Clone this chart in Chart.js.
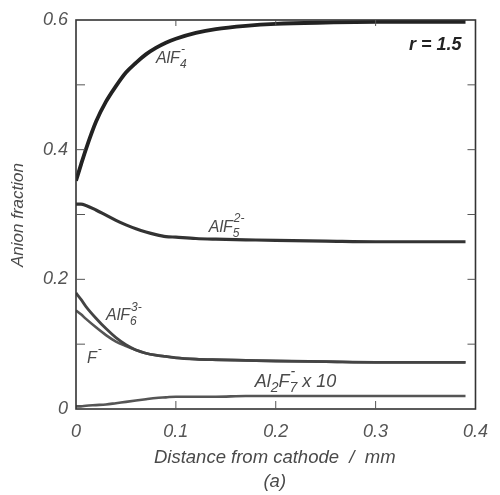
<!DOCTYPE html>
<html>
<head>
<meta charset="utf-8">
<script src="https://cdn.jsdelivr.net/npm/chart.js@4.4.1/dist/chart.umd.min.js"></script>
<style>
  body { margin: 0; background: #fff; }
  #wrap { width: 500px; height: 495px; }
</style>
</head>
<body>
<div id="wrap"><canvas id="chart" width="500" height="495"></canvas></div>
<script>
// distance from cathode (mm)
const distance = [0, 0.005, 0.01, 0.02, 0.03, 0.04, 0.05, 0.06, 0.07, 0.08, 0.09, 0.1, 0.12, 0.14, 0.17, 0.2, 0.25, 0.3, 0.35, 0.39];

const alf4 = [0.352, 0.377, 0.401, 0.443, 0.474, 0.498, 0.519, 0.534, 0.547, 0.557, 0.565, 0.571, 0.580, 0.586, 0.591, 0.594, 0.596, 0.597, 0.597, 0.597];
const alf5 = [0.316, 0.316, 0.314, 0.307, 0.299, 0.291, 0.284, 0.278, 0.273, 0.269, 0.266, 0.265, 0.263, 0.262, 0.261, 0.260, 0.259, 0.258, 0.258, 0.258];
const alf6 = [0.179, 0.169, 0.158, 0.140, 0.124, 0.110, 0.099, 0.091, 0.086, 0.083, 0.081, 0.079, 0.077, 0.076, 0.075, 0.074, 0.073, 0.072, 0.072, 0.072];
const fluoride = [0.152, 0.146, 0.139, 0.126, 0.114, 0.104, 0.097, 0.091, 0.086, 0.083, 0.081, 0.079, 0.077, 0.076, 0.075, 0.074, 0.073, 0.072, 0.072, 0.072];
const al2f7x10 = [0.004, 0.004, 0.005, 0.006, 0.007, 0.009, 0.011, 0.013, 0.015, 0.017, 0.018, 0.019, 0.019, 0.019, 0.020, 0.020, 0.020, 0.020, 0.020, 0.020];

const xTicks = [0, 0.1, 0.2, 0.3, 0.4];
const yTicks = [0, 0.2, 0.4, 0.6];

// curve labels: [x, y] anchor in data units, then text pieces
const curveLabels = [
    { at: [0.080, 0.534], size: 16, parts: [{ t: 'AlF' }, { sub: '4', sup: '-' }] },
    { at: [0.133, 0.273], size: 16, parts: [{ t: 'AlF' }, { sub: '5', sup: '2-' }] },
    { at: [0.030, 0.137], size: 16, parts: [{ t: 'AlF' }, { sub: '6', sup: '3-' }] },
    { at: [0.011, 0.071], size: 16, parts: [{ t: 'F' }, { sub: '', sup: '-' }] },
    { at: [0.179, 0.034], size: 18, parts: [{ t: 'Al' }, { sub: '2', sup: '' }, { t: 'F' }, { sub: '7', sup: '-' }, { t: ' x 10' }] }
];

const toPoints = ys => distance.map((x, i) => ({ x: x, y: ys[i] }));

const FONT = '"Liberation Sans", Arial, sans-serif';
const INK = '#333';
const TEXT = '#4a4a4a';

function series(ys, color, width) {
    return {
        data: toPoints(ys),
        borderColor: color,
        borderWidth: width,
        pointRadius: 0,
        fill: false,
        cubicInterpolationMode: 'monotone'
    };
}

const decorations = {
    id: 'decorations',
    afterDatasetsDraw(chart) {
        const ctx = chart.ctx;
        const a = chart.chartArea;
        const xs = chart.scales.x;
        const ys = chart.scales.y;

        ctx.save();
        // frame
        ctx.strokeStyle = INK;
        ctx.lineWidth = 1.6;
        ctx.strokeRect(a.left, a.top, a.right - a.left, a.bottom - a.top);

        // inward ticks on all four sides
        ctx.lineWidth = 1;
        ctx.strokeStyle = '#555';
        for (let v = 1; v < 4; v++) {
            const px = xs.getPixelForValue(v / 10);
            ctx.beginPath();
            ctx.moveTo(px, a.bottom); ctx.lineTo(px, a.bottom - 8);
            ctx.moveTo(px, a.top); ctx.lineTo(px, a.top + 6);
            ctx.stroke();
        }
        for (let v = 1; v < 6; v++) {
            const py = ys.getPixelForValue(v / 10);
            ctx.beginPath();
            ctx.moveTo(a.left, py); ctx.lineTo(a.left + 9, py);
            ctx.moveTo(a.right, py); ctx.lineTo(a.right - 8, py);
            ctx.stroke();
        }

        // curve labels
        ctx.fillStyle = TEXT;
        ctx.textBaseline = 'alphabetic';
        curveLabels.forEach(lab => {
            let x = xs.getPixelForValue(lab.at[0]);
            const y = ys.getPixelForValue(lab.at[1]);
            const small = Math.round(lab.size * 0.75);
            lab.parts.forEach(p => {
                if (p.t !== undefined) {
                    ctx.font = 'italic ' + lab.size + 'px ' + FONT;
                    ctx.fillText(p.t, x, y);
                    x += ctx.measureText(p.t).width;
                } else {
                    ctx.font = 'italic ' + small + 'px ' + FONT;
                    ctx.fillText(p.sub, x, y + 5);
                    ctx.fillText(p.sup, x + 1, y - lab.size * 0.6);
                    x += Math.max(ctx.measureText(p.sub).width, ctx.measureText(p.sup).width + 1);
                }
            });
        });

        // r = 1.5
        ctx.font = 'italic bold 18px ' + FONT;
        ctx.fillStyle = '#222';
        ctx.textAlign = 'right';
        ctx.fillText('r = 1.5', xs.getPixelForValue(0.386), ys.getPixelForValue(0.554));

        // axis titles
        ctx.fillStyle = TEXT;
        ctx.textAlign = 'center';
        ctx.textBaseline = 'middle';
        ctx.font = 'italic 18.5px ' + FONT;
        ctx.fillText('Distance from cathode  /  mm', (a.left + a.right) / 2 - 1, 458);
        ctx.fillText('(a)', (a.left + a.right) / 2 - 1, 482);

        ctx.font = 'italic 17px ' + FONT;
        ctx.translate(18, 215);
        ctx.rotate(-Math.PI / 2);
        ctx.fillText('Anion fraction', 0, 0);
        ctx.restore();
    }
};

new Chart(document.getElementById('chart'), {
    type: 'line',
    data: {
        datasets: [
            series(alf4, '#222', 3.8),
            series(alf5, '#333', 3.2),
            series(alf6, '#444', 2.8),
            series(fluoride, '#555', 2.6),
            series(al2f7x10, '#555', 2.6)
        ]
    },
    options: {
        responsive: false,
        animation: false,
        layout: { padding: { left: 0, top: 20, right: 14, bottom: 0 } },
        plugins: {
            legend: { display: false },
            tooltip: { enabled: false }
        },
        scales: {
            x: {
                type: 'linear',
                min: 0,
                max: 0.4,
                afterFit: s => { s.height = 86; },
                afterBuildTicks: s => { s.ticks = xTicks.map(v => ({ value: v })); },
                grid: { display: false, drawTicks: false },
                border: { display: false },
                ticks: {
                    padding: 12,
                    color: '#555',
                    font: { family: FONT, size: 18, style: 'italic' },
                    callback: v => v === 0 ? '0' : v.toFixed(1)
                }
            },
            y: {
                min: 0,
                max: 0.6,
                afterFit: s => { s.width = 76; },
                afterBuildTicks: s => { s.ticks = yTicks.map(v => ({ value: v })); },
                grid: { display: false, drawTicks: false },
                border: { display: false },
                ticks: {
                    padding: 8,
                    color: '#555',
                    font: { family: FONT, size: 18, style: 'italic' },
                    callback: v => v === 0 ? '0' : v.toFixed(1)
                }
            }
        }
    },
    plugins: [decorations]
});
</script>
</body>
</html>
